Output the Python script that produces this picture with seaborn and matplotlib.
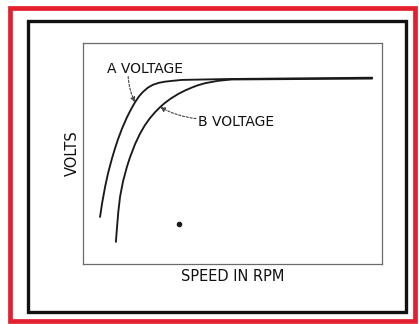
import matplotlib
matplotlib.use("Agg")
import matplotlib.pyplot as plt
from matplotlib.patches import Rectangle
import numpy as np
import pandas as pd
import seaborn as sns

# Speed (arbitrary units, 0-100) and output voltage (arbitrary units, 0-100)
a_speed = [5.7, 6.4, 7.4, 8.4, 9.7, 10.7, 11.7, 13.0, 14.7, 16.1, 17.4, 18.7, 20.0,
           21.7, 23.4, 25.4, 27.4, 30.1, 33.1, 40.8, 48.5, 96.7]
a_volts = [21.3, 27.6, 35.0, 41.2, 47.8, 52.3, 56.4, 61.1, 66.4, 70.1, 73.2, 75.8, 77.8,
           79.8, 81.1, 82.0, 82.5, 82.9, 83.3, 83.5, 83.7, 84.3]
b_speed = [11.0, 11.4, 11.8, 12.4, 13.4, 14.7, 15.7, 17.4, 19.0, 20.7, 22.4, 24.1,
           25.8, 27.4, 29.4, 31.8, 34.1, 36.5, 38.5, 40.8, 45.2, 49.8, 96.7]
b_volts = [10.0, 17.0, 23.5, 30.5, 37.5, 44.0, 48.2, 54.2, 58.8, 62.8, 66.0, 68.7,
           71.0, 72.9, 74.9, 76.9, 78.5, 79.9, 80.9, 81.8, 82.9, 83.5, 83.9]
series_names = ["A VOLTAGE", "B VOLTAGE"]
dot_speed = [32.1]
dot_volts = [18.1]

df = pd.concat([
    pd.DataFrame({"speed": a_speed, "volts": a_volts, "curve": series_names[0]}),
    pd.DataFrame({"speed": b_speed, "volts": b_volts, "curve": series_names[1]}),
], ignore_index=True)

sns.set_style("white")
plt.rcParams["font.family"] = ["DejaVu Sans"]

W, H = 419, 324
fig = plt.figure(figsize=(W / 100, H / 100), dpi=100)
fig.patch.set_facecolor("white")


def px_rect(x0, y0, x1, y1, **kw):
    """Rectangle given in pixel coordinates measured from the top-left corner."""
    return Rectangle((x0 / W, 1 - y1 / H), (x1 - x0) / W, (y1 - y0) / H,
                     transform=fig.transFigure, fill=False, **kw)


# outer red border and inner black frame
fig.patches.append(px_rect(9.5, 8, 415, 320.5, edgecolor="#e3202e", linewidth=3.4))
fig.patches.append(px_rect(27.5, 20.5, 406, 311.5, edgecolor="#111111", linewidth=2.4))

ax_l, ax_r, ax_t, ax_b = 83, 382, 43, 264
ax = fig.add_axes([ax_l / W, 1 - ax_b / H, (ax_r - ax_l) / W, (ax_b - ax_t) / H])

sns.lineplot(data=df, x="speed", y="volts", hue="curve",
             palette=["#1a1a1a", "#1a1a1a"], linewidth=1.35,
             legend=False, ax=ax, estimator=None)
for ln in ax.get_lines():
    ln.set_solid_joinstyle("round")
    ln.set_solid_capstyle("round")
ax.scatter(dot_speed, dot_volts, s=9, color="#1a1a1a", zorder=3)

ax.set_xlim(0, 100)
ax.set_ylim(0, 100)
ax.set_xticks([])
ax.set_yticks([])
for s in ax.spines.values():
    s.set_color("#6a6a6a")
    s.set_linewidth(0.9)

ax.set_xlabel("SPEED IN RPM", fontsize=10.5, labelpad=3.5, color="#111111")
ax.set_ylabel("VOLTS", fontsize=10.5, labelpad=2, color="#111111")

# curve labels with dashed pointers
ax.text(20.9, 88.2, series_names[0], fontsize=10, ha="center", va="center", color="#111111")
ax.text(38.6, 64.3, series_names[1], fontsize=10, ha="left", va="center", color="#111111")

arrow = dict(arrowstyle="-|>", linestyle=(0, (2, 1.5)), color="#444444",
             linewidth=0.8, mutation_scale=7, shrinkA=0, shrinkB=0)
ax.annotate("", xy=(a_speed[10], a_volts[10]), xytext=(15.1, 84.8),
            arrowprops=dict(arrow, connectionstyle="arc3,rad=0.1"))
ax.annotate("", xy=(b_speed[12], b_volts[12]), xytext=(37.8, 65.8),
            arrowprops=dict(arrow, connectionstyle="arc3,rad=-0.1"))

fig.savefig("out.png", dpi=100, facecolor="white")
